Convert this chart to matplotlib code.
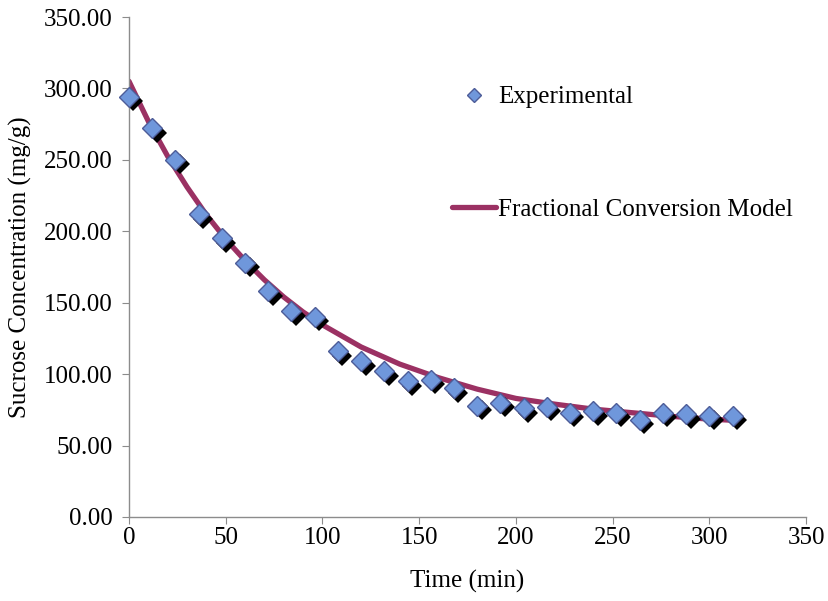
import matplotlib.pyplot as plt
import matplotlib.transforms as mtransforms
from matplotlib.lines import Line2D
from matplotlib.ticker import FormatStrFormatter

plt.rcParams['font.family'] = ['Liberation Serif', 'DejaVu Serif']

# --- Data ---
time_exp = [0, 12, 24, 36, 48, 60, 72, 84, 96, 108, 120, 132, 144, 156,
            168, 180, 192, 204, 216, 228, 240, 252, 264, 276, 288, 300, 312]
sucrose_exp = [294, 272, 250, 212, 195, 178, 158, 144, 140, 116, 109, 102, 95, 96,
               90, 78, 80, 76, 77, 73, 74, 73, 68, 73, 72, 71, 71]

time_model = [0, 10, 20, 30, 40, 50, 60, 70, 80, 90, 100, 120, 140, 160,
              180, 200, 220, 240, 260, 280, 300, 315]
sucrose_model = [305, 277, 252.5, 231, 211.5, 194.5, 179.5, 166, 154, 143.5, 134.5, 119, 107, 97.5,
                 89.5, 83, 79, 75.5, 73, 70.5, 68.5, 67.5]

x_ticks = [0, 50, 100, 150, 200, 250, 300, 350]
y_ticks = [0, 50, 100, 150, 200, 250, 300, 350]

# --- Plotting ---
fig = plt.figure(figsize=(8.29, 6.01), dpi=100)
ax = fig.add_axes([0.1556, 0.1398, 0.8167, 0.8319])

fs = 18
line_col = '#9b3163'
mark_col = '#6f97db'
edge_col = '#4d5c98'

ax.plot(time_model, sucrose_model, '-', color=line_col, lw=3.8, zorder=2,
        solid_capstyle='round')

# shadow behind the markers
shadow = mtransforms.offset_copy(ax.transData, fig=fig, x=3.2, y=-3.2, units='points')
ax.plot(time_exp, sucrose_exp, 'D', color='black', ms=10.5, mew=0,
        transform=shadow, zorder=3, clip_on=False)
ax.plot(time_exp, sucrose_exp, 'D', color=mark_col, mec=edge_col, mew=1.0, ms=10.5,
        zorder=4, clip_on=False)

# Legend
handles = [
    Line2D([], [], marker='D', ls='none', color=mark_col, mec=edge_col, mew=1.0, ms=7),
    Line2D([], [], color=line_col, lw=3.8, solid_capstyle='round'),
]
fig.legend(handles, ['Experimental', 'Fractional Conversion Model'], frameon=False,
           fontsize=fs, loc='upper left', bbox_to_anchor=(0.545, 0.857),
           borderpad=0, borderaxespad=0,
           handlelength=1.75, handletextpad=0.1, labelspacing=3.6)

# Axes styling
ax.set_xlim(0, 350)
ax.set_ylim(0, 350)
ax.set_xticks(x_ticks)
ax.set_yticks(y_ticks)
ax.yaxis.set_major_formatter(FormatStrFormatter('%.2f'))
for s in ['top', 'right']:
    ax.spines[s].set_visible(False)
for s in ['left', 'bottom']:
    ax.spines[s].set_color('#8c8c8c')
    ax.spines[s].set_linewidth(1.0)
ax.tick_params(direction='out', length=5, color='#8c8c8c', labelsize=fs)
ax.tick_params(axis='y', pad=7)
ax.tick_params(axis='x', pad=2)

ax.set_xlabel('Time (min)', fontsize=fs, labelpad=15)
ax.set_ylabel('Sucrose Concentration (mg/g)', fontsize=fs, labelpad=8)

fig.savefig('out.png', dpi=100)
